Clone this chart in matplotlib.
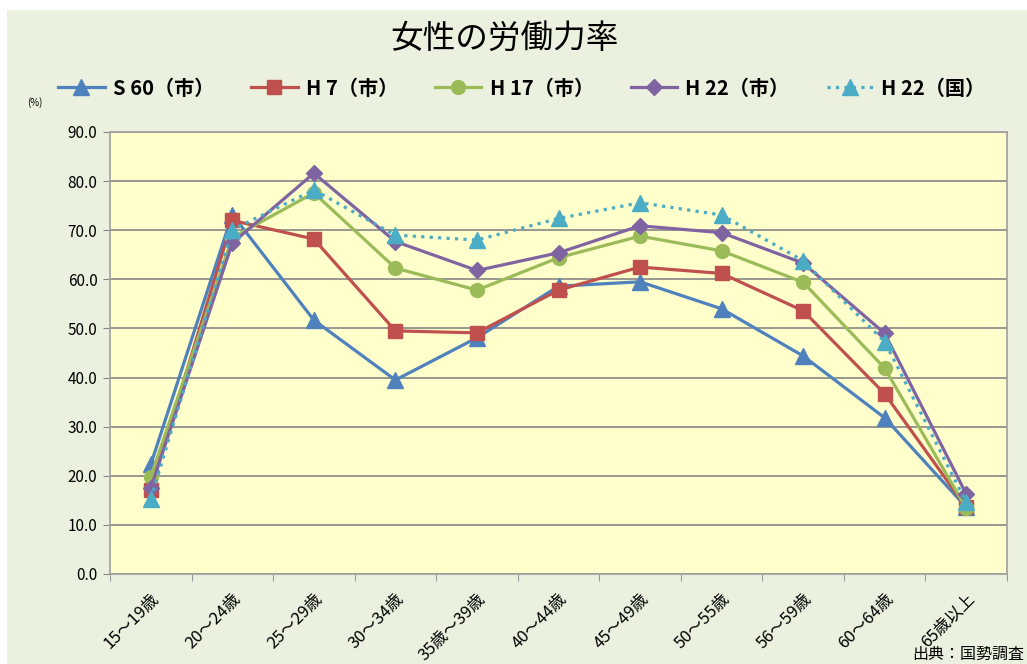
import matplotlib.pyplot as plt
from matplotlib.patches import Rectangle

plt.rcParams['font.family'] = ['Noto Sans CJK JP', 'DejaVu Sans']

ages = ["15～19歳", "20～24歳", "25～29歳", "30～34歳", "35歳～39歳", "40～44歳",
        "45～49歳", "50～55歳", "56～59歳", "60～64歳", "65歳以上"]

s60_city = [22.3, 73.2, 51.7, 39.5, 48.1, 58.6, 59.5, 54.0, 44.4, 31.8, 13.6]
h7_city = [17.2, 72.0, 68.2, 49.5, 49.1, 57.8, 62.5, 61.2, 53.6, 36.7, 13.6]
h17_city = [19.8, 68.5, 77.6, 62.3, 57.8, 64.4, 68.8, 65.8, 59.4, 41.9, 13.4]
h22_city = [17.5, 67.4, 81.6, 67.7, 61.8, 65.4, 70.9, 69.5, 63.3, 49.0, 16.3]
h22_nation = [15.3, 70.1, 78.2, 69.0, 68.0, 72.4, 75.6, 73.1, 63.8, 47.3, 14.6]

series = [
    ("S 60（市）", s60_city, "#4F81BD", "^", 11, "-"),
    ("H 7（市）", h7_city, "#C0504D", "s", 10, "-"),
    ("H 17（市）", h17_city, "#9BBB59", "o", 10, "-"),
    ("H 22（市）", h22_city, "#8064A2", "D", 8, "-"),
    ("H 22（国）", h22_nation, "#4BACC6", "^", 11, ":"),
]

fig = plt.figure(figsize=(10.27, 6.64), dpi=100, facecolor="white")
# light green chart area
fig.patches.append(Rectangle((7 / 1027, 0.5 / 664), 1.0, 1 - 10.5 / 664,
                             transform=fig.transFigure, facecolor="#EBF1DE",
                             edgecolor="none", zorder=-10))

ax = fig.add_axes([110 / 1027, 1 - 574 / 664, 897 / 1027, 442 / 664])
ax.set_facecolor("#FFFFCC")

x = list(range(len(ages)))
for name, vals, col, mk, ms, ls in series:
    ax.plot(x, vals, color=col, marker=mk, markersize=ms, linewidth=2.3,
            linestyle=ls, label=name, markeredgecolor=col, clip_on=False)

ax.set_xlim(-0.5, len(ages) - 0.5)
ax.set_ylim(0, 90)
ax.set_yticks(range(0, 91, 10))
ax.set_yticklabels([f"{v:.1f}" for v in range(0, 91, 10)], fontsize=11)
ax.grid(axis="y", color="#868686", linewidth=1.2)
ax.set_axisbelow(True)

ax.set_xticks(x)
ax.set_xticklabels(ages, rotation=45, ha="right", va="top",
                   rotation_mode="anchor", fontsize=12)
ax.set_xticks([i + 0.5 for i in range(-1, len(ages))], minor=True)
ax.tick_params(axis="x", which="major", length=0, pad=12)
ax.tick_params(axis="x", which="minor", length=5, color="#868686")
ax.tick_params(axis="y", length=5, color="#868686", pad=4)

for sp in ax.spines.values():
    sp.set_color("#A0A0A0")
    sp.set_linewidth(1.2)

fig.text(504 / 1027, 1 - 39 / 664, "女性の労働力率", ha="center", va="center",
         fontsize=23.5)
fig.text(35 / 1027, 1 - 103 / 664, "(%)", ha="center", va="center", fontsize=7)
fig.text(1024 / 1027, 1 - 654 / 664, "出典：国勢調査", ha="right", va="center",
         fontsize=11.5)

fig.legend(loc="center", bbox_to_anchor=(0.508, 1 - 88 / 664), ncol=5,
           frameon=False, handlelength=2.3, handletextpad=0.4,
           columnspacing=1.85, prop={"weight": "bold", "size": 14.5})

fig.savefig("out.png", dpi=100, facecolor=fig.get_facecolor())
